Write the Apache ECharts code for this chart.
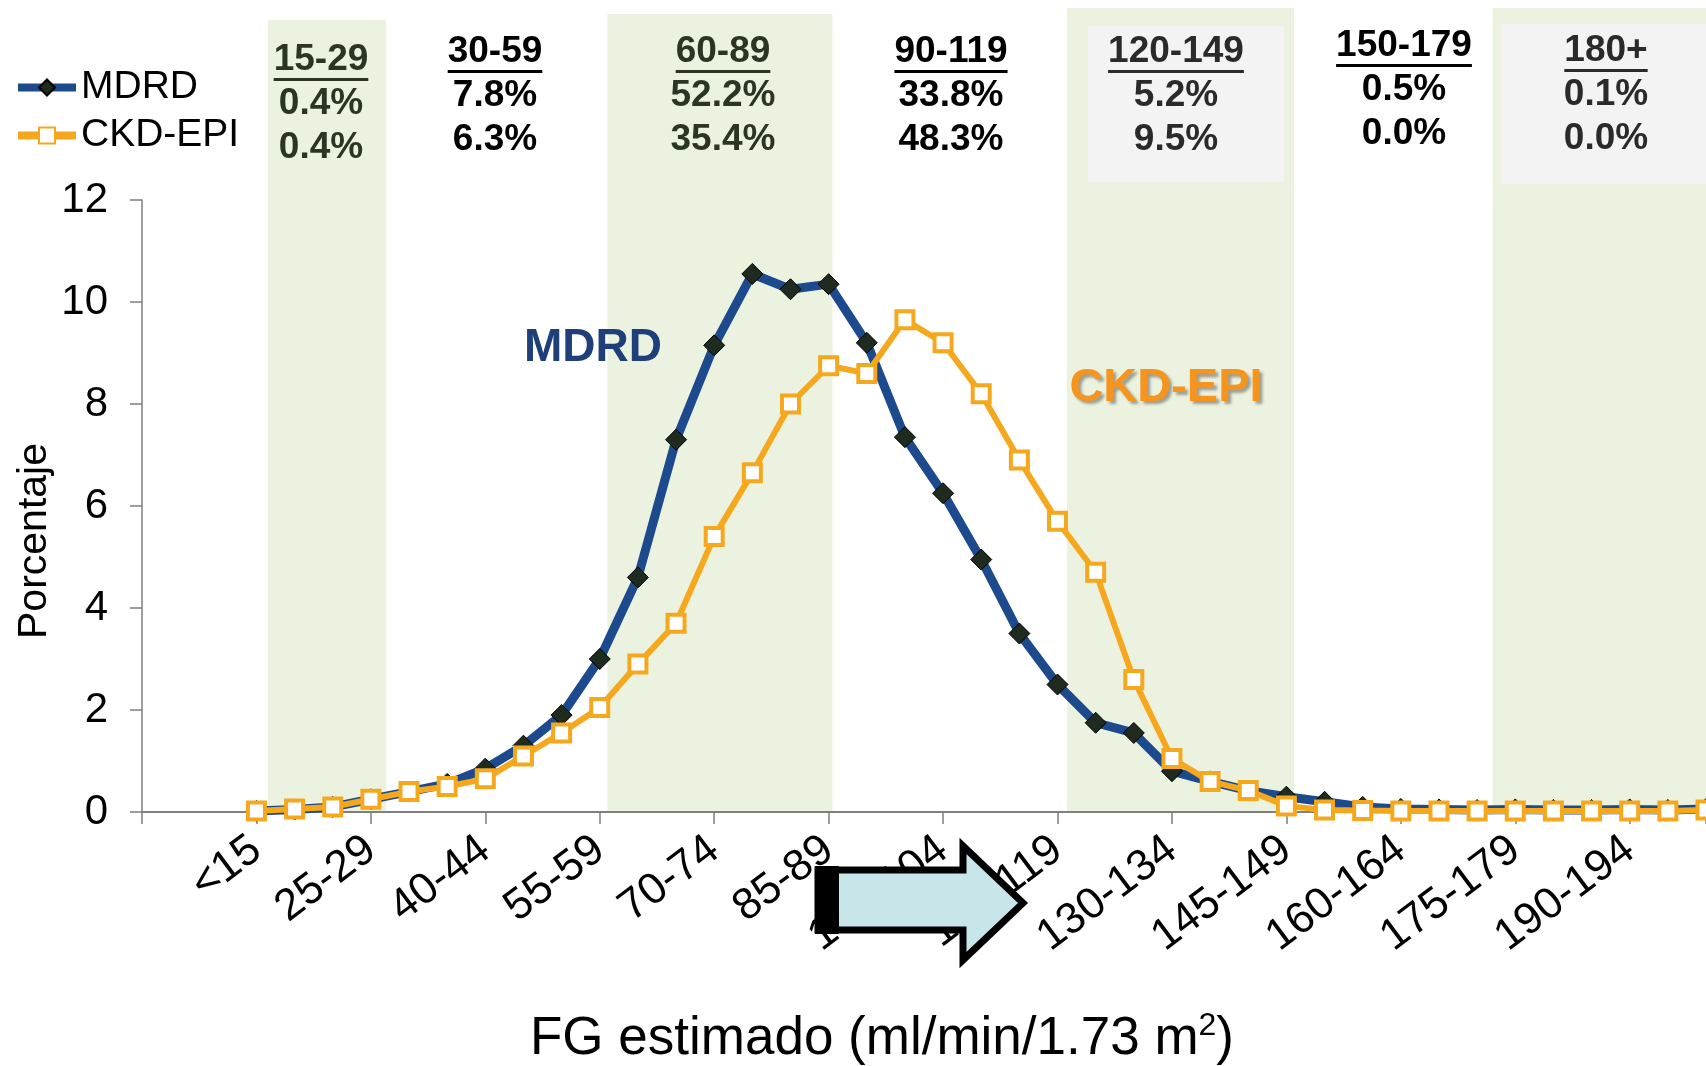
<!DOCTYPE html>
<html>
<head>
<meta charset="utf-8">
<title>FG estimado</title>
<script src="https://cdn.jsdelivr.net/npm/echarts/dist/echarts.min.js"></script>
<style>
    html, body { margin: 0; padding: 0; background: #fff; }
    #main { width: 1706px; height: 1066px; }
</style>
</head>
<body>
<div id="main"></div>
<script>
var categories = ['<15', '15-19', '20-24', '25-29', '30-34', '35-39', '40-44', '45-49', '50-54', '55-59',
    '60-64', '65-69', '70-74', '75-79', '80-84', '85-89', '90-94', '95-99', '100-104', '105-109',
    '110-114', '115-119', '120-124', '125-129', '130-134', '135-139', '140-144', '145-149', '150-154', '155-159',
    '160-164', '165-169', '170-174', '175-179', '180-184', '185-189', '190-194', '195-199', '200+'];

var mdrd = [0.02, 0.05, 0.1, 0.25, 0.4, 0.55, 0.85, 1.3, 1.9, 3.0,
    4.6, 7.3, 9.15, 10.55, 10.25, 10.35, 9.2, 7.35, 6.25, 4.95,
    3.5, 2.5, 1.75, 1.55, 0.8, 0.6, 0.42, 0.3, 0.2, 0.1,
    0.06, 0.05, 0.04, 0.05, 0.04, 0.04, 0.05, 0.04, 0.06];

var ckdEpi = [0.02, 0.06, 0.1, 0.25, 0.4, 0.5, 0.65, 1.1, 1.55, 2.05,
    2.9, 3.7, 5.4, 6.65, 8.0, 8.75, 8.6, 9.65, 9.2, 8.2,
    6.9, 5.7, 4.7, 2.6, 1.05, 0.6, 0.42, 0.12, 0.04, 0.03,
    0.02, 0.02, 0.02, 0.02, 0.02, 0.02, 0.02, 0.02, 0.04];

// grupos de FG con su porcentaje
var groups = ['15-29', '30-59', '60-89', '90-119', '120-149', '150-179', '180+'];
var groupMdrd = ['0.4%', '7.8%', '52.2%', '33.8%', '5.2%', '0.5%', '0.1%'];
var groupCkd = ['0.4%', '6.3%', '35.4%', '48.3%', '9.5%', '0.0%', '0.0%'];

var yTicks = [0, 12, 2];

// estilo de las cabeceras y franjas verdes
var headX = [321, 495, 723, 951, 1176, 1404, 1606];
var headY = [60, 52, 52, 52, 52, 46, 51];
var headColor = ['#2b3524', '#000', '#2b3524', '#000', '#2a2a2a', '#000', '#2a2a2a'];
var bandSpan = [[0.3, 3.4], [9.2, 15.1], [21.25, 27.2], [32.4, 38]];
var bandTop = [20, 14, 8, 8];

var font = "'Liberation Sans', Arial, sans-serif";
var blue = '#1c4a8c';
var orange = '#f5a81e';

function pairs(arr) {
    return arr.map(function (v, i) { return [i, v]; });
}

function textWidth(str, f) {
    var ctx = document.createElement('canvas').getContext('2d');
    ctx.font = f;
    return ctx.measureText(str).width;
}

var chart = echarts.init(document.getElementById('main'));

var option = {
    backgroundColor: '#fff',
    animation: false,
    grid: { left: 142, right: 0, top: 200, bottom: 254, containLabel: false, outerBoundsMode: 'none' },
    legend: {
        data: ['MDRD', 'CKD-EPI'],
        orient: 'vertical',
        left: 9,
        top: 63,
        itemWidth: 58,
        itemHeight: 20,
        itemGap: 9,
        lineStyle: { width: 8 },
        textStyle: { fontSize: 39, color: '#000', fontFamily: font }
    },
    xAxis: {
        type: 'value',
        min: -3,
        max: 38,
        interval: 3,
        splitLine: { show: false },
        axisLine: { show: true, onZero: false, lineStyle: { color: '#7f7f7f', width: 2 } },
        axisTick: { show: true, length: 12, lineStyle: { color: '#7f7f7f', width: 1.5 } },
        axisLabel: {
            rotate: 37,
            margin: 33,
            fontSize: 44,
            color: '#000',
            fontFamily: font,
            showMinLabel: true,
            showMaxLabel: true,
            formatter: function (v) {
                if (v >= 0 && v % 3 === 0 && categories[v]) return categories[v];
                return '';
            }
        }
    },
    yAxis: {
        type: 'value',
        min: yTicks[0],
        max: yTicks[1],
        interval: yTicks[2],
        splitLine: { show: false },
        axisLine: { show: true, onZero: false, lineStyle: { color: '#7f7f7f', width: 1.5 } },
        axisTick: { show: true, length: 12, lineStyle: { color: '#7f7f7f', width: 1.5 } },
        axisLabel: { fontSize: 42, color: '#000', fontFamily: font, margin: 34 }
    },
    series: [
        {
            name: 'MDRD',
            type: 'line',
            data: pairs(mdrd),
            symbol: 'diamond',
            symbolSize: 21,
            lineStyle: { color: blue, width: 9 },
            itemStyle: { color: '#1f2b1f', borderColor: '#000', borderWidth: 1 },
            z: 3
        },
        {
            name: 'CKD-EPI',
            type: 'line',
            data: pairs(ckdEpi),
            symbol: 'rect',
            symbolSize: 17,
            lineStyle: { color: orange, width: 6 },
            itemStyle: { color: '#fff', borderColor: orange, borderWidth: 4 },
            z: 4
        }
    ]
};

chart.setOption(option);

// franjas, cabeceras y textos
var zero = chart.convertToPixel({ yAxisIndex: 0 }, 0);
var els = [];

bandSpan.forEach(function (b, i) {
    var x0 = chart.convertToPixel({ xAxisIndex: 0 }, b[0]);
    var x1 = chart.convertToPixel({ xAxisIndex: 0 }, b[1]);
    els.push({
        type: 'rect', z: -10, silent: true,
        shape: { x: x0, y: bandTop[i], width: x1 - x0, height: zero - bandTop[i] },
        style: { fill: '#ebf3e0' }
    });
});

// cajas grises de 120-149 y 180+
els.push({ type: 'rect', z: -9, shape: { x: 1088, y: 26, width: 196, height: 156 }, style: { fill: '#f3f3f3' } });
els.push({ type: 'rect', z: -9, shape: { x: 1501, y: 24, width: 205, height: 160 }, style: { fill: '#f3f3f3' } });

var headFont = 'bold 37px ' + font;
groups.forEach(function (g, i) {
    var col = headColor[i];
    var y = headY[i];
    var w = textWidth(g, headFont);
    els.push({
        type: 'text', z: 10, x: headX[i], y: y,
        style: { text: g, fill: col, font: headFont, align: 'center', verticalAlign: 'middle' }
    });
    els.push({
        type: 'rect', z: 10,
        shape: { x: headX[i] - w / 2, y: y + 18, width: w, height: 3 },
        style: { fill: col }
    });
    els.push({
        type: 'text', z: 10, x: headX[i], y: y + 44,
        style: { text: groupMdrd[i], fill: col, font: headFont, align: 'center', verticalAlign: 'middle' }
    });
    els.push({
        type: 'text', z: 10, x: headX[i], y: y + 88,
        style: { text: groupCkd[i], fill: col, font: headFont, align: 'center', verticalAlign: 'middle' }
    });
});

// etiquetas de las curvas
els.push({
    type: 'text', z: 10, x: 593, y: 348,
    style: { text: 'MDRD', fill: '#1e3f7a', font: 'bold 46px ' + font, align: 'center', verticalAlign: 'middle' }
});
els.push({
    type: 'text', z: 10, x: 1166, y: 388,
    style: {
        text: 'CKD-EPI', fill: '#f7941d', font: 'bold 47px ' + font, align: 'center', verticalAlign: 'middle',
        textShadowColor: 'rgba(0,0,0,0.35)', textShadowBlur: 3, textShadowOffsetX: 3, textShadowOffsetY: 3
    }
});

// titulos de los ejes
els.push({
    type: 'text', z: 10, x: 35, y: 541, rotation: Math.PI / 2,
    style: { text: 'Porcentaje', fill: '#000', font: '41px ' + font, align: 'center', verticalAlign: 'middle' }
});
els.push({
    type: 'text', z: 10, x: 882, y: 1039,
    style: {
        text: '{a|FG estimado (ml/min/1.73 m}{s|2}{a|)}',
        align: 'center', verticalAlign: 'middle',
        rich: {
            a: { fontSize: 53, fontFamily: font, fill: '#000', lineHeight: 58 },
            s: { fontSize: 32, fontFamily: font, fill: '#000', lineHeight: 58, verticalAlign: 'top' }
        }
    }
});

// flecha
els.push({
    type: 'polygon', z: 20,
    shape: { points: [[818, 870], [963, 870], [963, 846], [1023, 903], [963, 960], [963, 930], [818, 930]] },
    style: { fill: '#c8e6ea', stroke: '#000', lineWidth: 7, lineJoin: 'miter' }
});
els.push({
    type: 'rect', z: 21,
    shape: { x: 815, y: 866, width: 24, height: 68 },
    style: { fill: '#000' }
});

chart.setOption({ graphic: { elements: els } });
</script>
</body>
</html>
